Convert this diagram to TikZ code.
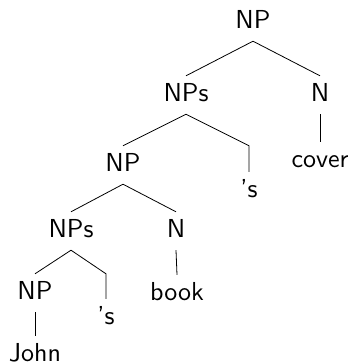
\documentclass[tikz,border=0pt]{standalone}
\usepackage{fontspec}
\newfontfamily\treefont[Ligatures=TeX]{lmsans10-regular.otf}
\begin{document}
\begin{tikzpicture}[x=1pt,y=-1pt,
  lab/.style={anchor=base,inner sep=0pt,text height=25pt,text depth=13pt,
    font=\treefont\fontsize{26}{31}\selectfont},
  leaf/.style={lab,text depth=0pt},
  edge/.style={draw,line width=0.8pt}]
\useasboundingbox (0,0) rectangle (355,364);
% tree nodes, placed by baseline
\node[lab] (np0)   at (253,28)  {NP};
\node[lab] (nps1)  at (186,101) {NPs};
\node[lab] (n1)    at (320,101) {N};
\node[lab] (cover) at (320,167) {cover};
\node[lab] (np1)   at (123,171) {NP};
\node[lab] (s1)    at (249,197) {’s};
\node[lab] (nps2)  at (71,237)  {NPs};
\node[lab] (n2)    at (176,237) {N};
\node[lab] (book)  at (177,300) {book};
\node[lab] (np2)   at (35,299)  {NP};
\node[lab] (s2)    at (106,324) {’s};
\node[leaf] (john) at (35,361)  {John};
% bends of the possessive branches
\coordinate (b1) at (s1.north |- np1.north);
\coordinate (b2) at (s2.north |- np2.north);
% branches
\path[edge] (np0.south) -- (nps1.north);
\path[edge] (np0.south) -- (n1.north);
\path[edge] (n1.south) -- (cover.north);
\path[edge] (nps1.south) -- (np1.north);
\path[edge] (nps1.south) -- (b1) -- (s1.north);
\path[edge] (np1.south) -- (nps2.north);
\path[edge] (np1.south) -- (n2.north);
\path[edge] (n2.south) -- (book.north);
\path[edge] (nps2.south) -- (np2.north);
\path[edge] (nps2.south) -- (b2) -- (s2.north);
\path[edge] (np2.south) -- (john.north);
\end{tikzpicture}
\end{document}
